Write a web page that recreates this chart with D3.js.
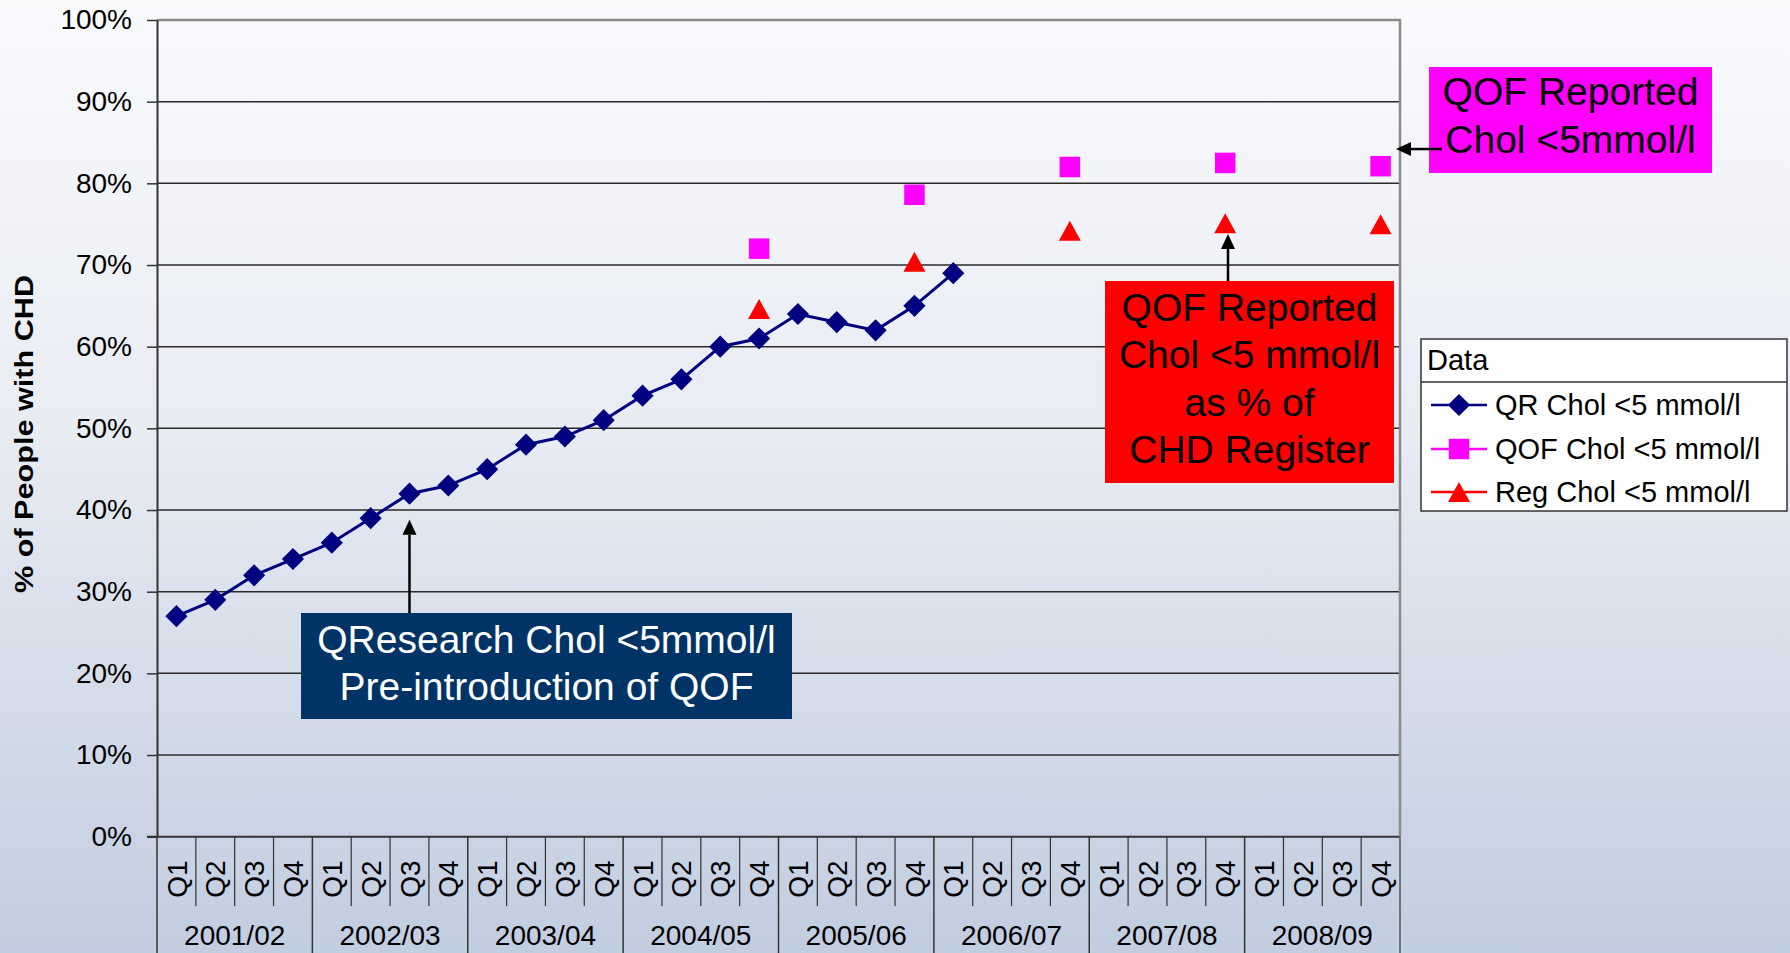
<!DOCTYPE html>
<html>
<head>
<meta charset="utf-8">
<script src="https://cdn.jsdelivr.net/npm/d3@7"></script>
<style>
  html, body { margin: 0; padding: 0; background: #fff; }
  svg { display: block; font-family: "Liberation Sans", Arial, sans-serif; }
</style>
</head>
<body>
<script>
// ---------------- DATA ----------------
const years = ["2001/02", "2002/03", "2003/04", "2004/05", "2005/06", "2006/07", "2007/08", "2008/09"];
const quarters = ["Q1", "Q2", "Q3", "Q4"];
const yTickValues = [0, 10, 20, 30, 40, 50, 60, 70, 80, 90, 100];
const yTickLabels = ["0%", "10%", "20%", "30%", "40%", "50%", "60%", "70%", "80%", "90%", "100%"];

// QR Chol <5 mmol/l : quarterly from 2001/02 Q1 to 2006/07 Q1
const qrValues = [27, 29, 32, 34, 36, 39, 42, 43, 45, 48, 49, 51, 54, 56, 60, 61, 64, 63, 62, 65, 69];

// QOF / Reg : yearly at Q4
const annualCategories = ["2004/05 Q4", "2005/06 Q4", "2006/07 Q4", "2007/08 Q4", "2008/09 Q4"];
const qofValues = [72, 78.6, 82, 82.5, 82.1];
const regValues = [64.6, 70.4, 74.2, 75.1, 75.0];

const seriesNames = ["QR Chol <5 mmol/l", "QOF Chol <5 mmol/l", "Reg Chol <5 mmol/l"];

// ---------------- LAYOUT ----------------
const W = 1790, H = 953;
const plot = { left: 157, right: 1400, top: 20, bottom: 836.7 };

const categories = years.flatMap(y => quarters.map(q => y + " " + q));
const x = d3.scaleBand().domain(categories).range([plot.left, plot.right]).paddingInner(0).paddingOuter(0);
const xc = c => x(c) + x.bandwidth() / 2;
const y = d3.scaleLinear().domain([0, 100]).range([plot.bottom, plot.top]);

const svg = d3.select("body").append("svg").attr("width", W).attr("height", H);

// background gradient
const defs = svg.append("defs");
const grad = defs.append("linearGradient").attr("id", "bg").attr("x1", 0).attr("y1", 0).attr("x2", 0).attr("y2", 1);
grad.append("stop").attr("offset", "0%").attr("stop-color", "#f9fafc");
grad.append("stop").attr("offset", "45%").attr("stop-color", "#e8ecf3");
grad.append("stop").attr("offset", "100%").attr("stop-color", "#c1cde0");
svg.append("rect").attr("width", W).attr("height", H).attr("fill", "url(#bg)");

// gridlines
svg.append("g").selectAll("line")
  .data(yTickValues.filter(v => v > 0 && v < 100))
  .join("line")
  .attr("x1", plot.left).attr("x2", plot.right)
  .attr("y1", d => y(d)).attr("y2", d => y(d))
  .attr("stroke", "#2a2a2a").attr("stroke-width", 1.5);

// top border (grey)
svg.append("line").attr("x1", plot.left).attr("x2", plot.right + 1)
  .attr("y1", y(100)).attr("y2", y(100)).attr("stroke", "#8a8a8a").attr("stroke-width", 2.5);

// y axis
const yAxis = d3.axisLeft(y)
  .tickValues(yTickValues)
  .tickFormat((d, i) => yTickLabels[i])
  .tickSizeInner(10).tickSizeOuter(0).tickPadding(15);
const gy = svg.append("g").attr("transform", `translate(${plot.left},0)`).call(yAxis);
gy.select(".domain").attr("stroke", "#333").attr("stroke-width", 2);
gy.selectAll(".tick line").attr("stroke", "#333").attr("stroke-width", 1.5);
gy.selectAll(".tick text").attr("font-size", 28).attr("fill", "#000")
  .attr("font-family", '"Liberation Sans", Arial, sans-serif');

// x axis baseline
svg.append("line").attr("x1", plot.left - 10).attr("x2", plot.right)
  .attr("y1", plot.bottom).attr("y2", plot.bottom).attr("stroke", "#333").attr("stroke-width", 2);

// category separators
const gx = svg.append("g");
categories.forEach((c, i) => {
  const isYearStart = i % 4 === 0;
  gx.append("line")
    .attr("x1", x(c)).attr("x2", x(c))
    .attr("y1", plot.bottom).attr("y2", isYearStart ? H : 906)
    .attr("stroke", "#333").attr("stroke-width", isYearStart ? 1.5 : 1.2);
});
svg.append("line").attr("x1", plot.right).attr("x2", plot.right)
  .attr("y1", plot.top).attr("y2", plot.bottom)
  .attr("stroke", "#8a8a8a").attr("stroke-width", 2.5);
svg.append("line").attr("x1", plot.right).attr("x2", plot.right)
  .attr("y1", plot.bottom).attr("y2", H)
  .attr("stroke", "#555").attr("stroke-width", 1.5);

// quarter labels (rotated)
gx.selectAll("text.q").data(categories).join("text")
  .attr("class", "q")
  .attr("transform", d => `translate(${xc(d)},879) rotate(-90)`)
  .attr("text-anchor", "middle").attr("dy", "0.36em")
  .attr("font-size", 28).attr("fill", "#000")
  .text(d => d.split(" ")[1]);

// year labels
gx.selectAll("text.yr").data(years).join("text")
  .attr("class", "yr")
  .attr("x", d => x(d + " Q1") + 2 * x.bandwidth())
  .attr("y", 945)
  .attr("text-anchor", "middle")
  .attr("font-size", 28).attr("fill", "#000")
  .text(d => d);

// y-axis title
svg.append("text")
  .attr("transform", "translate(24,434) rotate(-90)")
  .attr("text-anchor", "middle").attr("dy", "0.36em")
  .attr("font-size", 26).attr("font-weight", "bold").attr("fill", "#000")
  .attr("textLength", 318).attr("lengthAdjust", "spacingAndGlyphs")
  .text("% of People with CHD");

// ---------------- SERIES ----------------
const NAVY = "#000080", MAGENTA = "#ff00ff", RED = "#ff0000";
const diamond = d3.symbol().type(d3.symbolSquare).size(245)();
const square = d3.symbol().type(d3.symbolSquare).size(420)();
function triPath(w, h) { return `M0,${-h / 2}L${w / 2},${h / 2}L${-w / 2},${h / 2}Z`; }
const triangle = triPath(22, 20);

const qrData = qrValues.map((v, i) => ({ c: categories[i], v }));
svg.append("path").datum(qrData)
  .attr("fill", "none").attr("stroke", NAVY).attr("stroke-width", 3)
  .attr("d", d3.line().x(d => xc(d.c)).y(d => y(d.v)));
svg.append("g").selectAll("path").data(qrData).join("path")
  .attr("d", diamond).attr("fill", NAVY)
  .attr("transform", d => `translate(${xc(d.c)},${y(d.v)}) rotate(45)`);

svg.append("g").selectAll("path").data(annualCategories.map((c, i) => ({ c, v: qofValues[i] }))).join("path")
  .attr("d", square).attr("fill", MAGENTA)
  .attr("transform", d => `translate(${xc(d.c)},${y(d.v)})`);

svg.append("g").selectAll("path").data(annualCategories.map((c, i) => ({ c, v: regValues[i] }))).join("path")
  .attr("d", triangle).attr("fill", RED)
  .attr("transform", d => `translate(${xc(d.c)},${y(d.v)})`);

// ---------------- ANNOTATIONS ----------------
function arrow(x1, y1, x2, y2) {
  const g = svg.append("g");
  const ang = Math.atan2(y2 - y1, x2 - x1);
  const L = 15, Wd = 7;
  const bx = x2 - L * Math.cos(ang), by = y2 - L * Math.sin(ang);
  g.append("line").attr("x1", x1).attr("y1", y1).attr("x2", bx).attr("y2", by)
    .attr("stroke", "#000").attr("stroke-width", 2.5);
  g.append("path")
    .attr("d", `M${x2},${y2}L${bx + Wd * Math.sin(ang)},${by - Wd * Math.cos(ang)}L${bx - Wd * Math.sin(ang)},${by + Wd * Math.cos(ang)}Z`)
    .attr("fill", "#000");
}
function box(x0, y0, w, h, fill, color, lines, baselines) {
  const g = svg.append("g");
  g.append("rect").attr("x", x0).attr("y", y0).attr("width", w).attr("height", h).attr("fill", fill);
  lines.forEach((t, i) => {
    g.append("text").attr("x", x0 + w / 2).attr("y", baselines[i])
      .attr("text-anchor", "middle").attr("font-size", 39).attr("fill", color).text(t);
  });
}

// QResearch box (navy)
arrow(xc("2002/03 Q3"), 613, xc("2002/03 Q3"), y(38.8));
box(301, 613, 491, 106, "#003366", "#ffffff",
  ["QResearch Chol <5mmol/l", "Pre-introduction of QOF"], [653, 700]);

// QOF reported box (red)
arrow(1228, 281, 1228, y(73.8));
box(1105, 281, 289, 202, "#ff0000", "#000000",
  ["QOF Reported", "Chol <5 mmol/l", "as % of", "CHD Register"], [321, 368, 416, 463]);

// QOF reported box (magenta)
box(1429, 67, 283, 106, "#ff00ff", "#000000",
  ["QOF Reported", "Chol <5mmol/l"], [105, 153]);
arrow(1442, y(84.2), plot.right - 4, y(84.2));

// ---------------- LEGEND ----------------
const lg = svg.append("g");
lg.append("rect").attr("x", 1421).attr("y", 339).attr("width", 366).attr("height", 172)
  .attr("fill", "#ffffff").attr("stroke", "#333").attr("stroke-width", 1.5);
lg.append("line").attr("x1", 1421).attr("x2", 1787).attr("y1", 382).attr("y2", 382)
  .attr("stroke", "#333").attr("stroke-width", 1.5);
lg.append("text").attr("x", 1427).attr("y", 370).attr("font-size", 29).attr("fill", "#000").text("Data");
const legendColors = [NAVY, MAGENTA, RED];
const legendShapes = [diamond, square, triangle];
const legendRot = [45, 0, 0];
const legendY = [405, 449, 492];
seriesNames.forEach((name, i) => {
  lg.append("line").attr("x1", 1431).attr("x2", 1487).attr("y1", legendY[i]).attr("y2", legendY[i])
    .attr("stroke", legendColors[i]).attr("stroke-width", 2.5);
  lg.append("path").attr("d", legendShapes[i]).attr("fill", legendColors[i])
    .attr("transform", `translate(1459,${legendY[i]}) rotate(${legendRot[i]})`);
  lg.append("text").attr("x", 1495).attr("y", legendY[i]).attr("dy", "0.36em")
    .attr("font-size", 29).attr("fill", "#000").text(name);
});
</script>
</body>
</html>
